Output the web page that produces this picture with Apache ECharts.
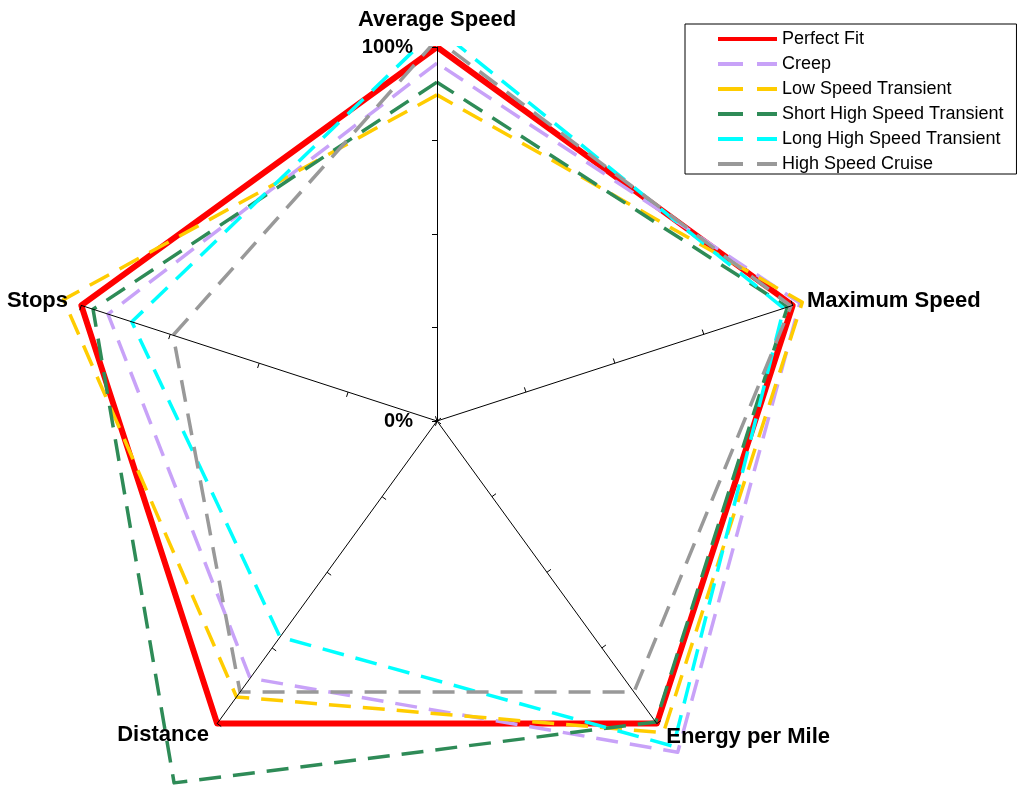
<!DOCTYPE html>
<html>
<head>
<meta charset="utf-8">
<title>Drive cycle fit</title>
<script src="https://cdn.jsdelivr.net/npm/echarts@6/dist/echarts.min.js"></script>
<style>
  html, body { margin: 0; padding: 0; background: #fff; }
  #chart { width: 1029px; height: 787px; }
</style>
</head>
<body>
<div id="chart"></div>
<script>
// radar axes, in echarts order (top first, then counter-clockwise)
var indicators = ['Average Speed', 'Stops', 'Distance', 'Energy per Mile', 'Maximum Speed'];
var nameGaps = [16, 14, 14, 16, 15];

// % of the perfect fit, same order as indicators
var profiles = ['Perfect Fit', 'Creep', 'Low Speed Transient', 'Short High Speed Transient',
  'Long High Speed Transient', 'High Speed Cruise'];
var perfectFit = [100, 100, 100, 100, 100];
var creep = [95.7, 92.5, 85, 109.5, 102];
var lowSpeedTransient = [87.2, 105, 91.2, 103, 102.7];
var shortHighSpeed = [90.6, 96.7, 119.6, 99.5, 98.5];
var longHighSpeed = [105, 85.8, 71.4, 107.5, 97.5];
var highSpeedCruise = [102, 74.2, 89.6, 89.6, 99.5];
var profileValues = [perfectFit, creep, lowSpeedTransient, shortHighSpeed, longHighSpeed, highSpeedCruise];

var colors = ['#ff0000', '#c8a2f8', '#ffcc00', '#2e8b57', '#00ffff', '#999999'];

var fontFamily = '"Liberation Sans", Arial, Helvetica, sans-serif';
var solidIcon = 'path://M0,0H60V4H0Z';
var dashIcon = 'path://M0,0H25V4H0Z M39,0H59V4H39Z';

var indicatorList = indicators.map(function (name, i) {
  var ind = { name: name, min: 0, max: 100, nameGap: nameGaps[i] };
  if (i === 0) {
    // only the top axis carries the 0% / 100% labels
    ind.axisLabel = {
      show: true,
      margin: 24,
      color: '#000',
      fontSize: 20,
      fontWeight: 'bold',
      fontFamily: fontFamily,
      formatter: function (v) {
        return (v === 0 || v === 100) ? v + '%' : '';
      }
    };
  }
  return ind;
});

var seriesData = profiles.map(function (name, i) {
  return {
    name: name,
    value: profileValues[i],
    itemStyle: { color: colors[i] },
    lineStyle: {
      color: colors[i],
      width: i === 0 ? 6 : 3.5,
      type: i === 0 ? 'solid' : [22, 12]
    }
  };
});

var chart = echarts.init(document.getElementById('chart'));

chart.setOption({
  animation: false,
  backgroundColor: '#fff',
  legend: {
    orient: 'vertical',
    left: 685,
    top: 24,
    padding: [5, 13, 0, 33],
    itemGap: 5,
    itemWidth: 59,
    itemHeight: 4,
    backgroundColor: '#fff',
    borderColor: '#000',
    borderWidth: 1,
    borderRadius: 0,
    selectedMode: false,
    itemStyle: { borderWidth: 0 },
    textStyle: { color: '#000', fontSize: 18, lineHeight: 20, fontFamily: fontFamily },
    data: profiles.map(function (name, i) {
      return { name: name, icon: i === 0 ? solidIcon : dashIcon };
    })
  },
  radar: {
    z: 10,
    center: [437, 421],
    radius: 374,
    startAngle: 90,
    shape: 'polygon',
    splitNumber: 4,
    indicator: indicatorList,
    axisName: {
      color: '#000',
      fontSize: 22,
      fontWeight: 'bold',
      fontFamily: fontFamily
    },
    axisLine: { lineStyle: { color: '#000', width: 1 } },
    axisTick: { show: true, length: 5, lineStyle: { color: '#000', width: 1 } },
    splitLine: { show: false },
    splitArea: { show: false }
  },
  // white band that cuts everything above the top vertex (the original plot is clipped there)
  graphic: [{
    type: 'rect',
    z: 5,
    left: 0,
    top: 0,
    shape: { width: 684, height: 46 },
    style: { fill: '#fff' },
    silent: true
  }],
  series: [{
    type: 'radar',
    symbol: 'none',
    data: seriesData
  }]
});
</script>
</body>
</html>
